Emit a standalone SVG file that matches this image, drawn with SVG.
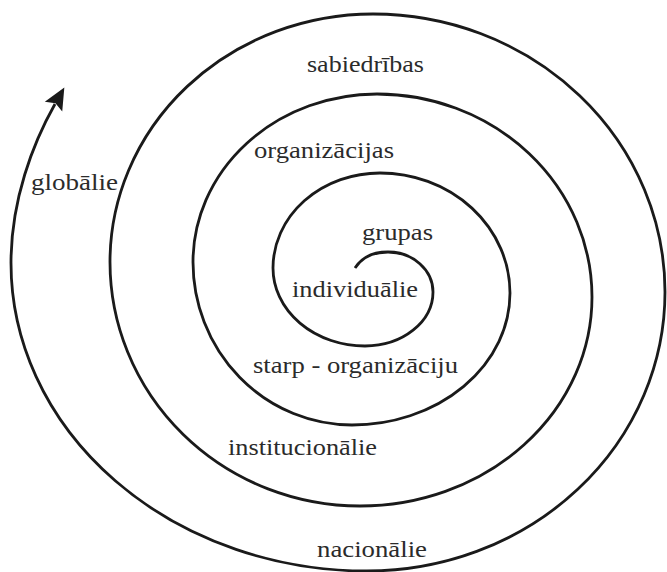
<svg xmlns="http://www.w3.org/2000/svg" width="667" height="572" viewBox="0 0 667 572">
  <style>
    .spiral { fill: none; stroke: #1a1a1a; stroke-width: 2.8; stroke-linecap: butt; }
    text { font-family: "Liberation Serif", "Times New Roman", "DejaVu Serif", serif; font-size: 24px; fill: #2b2b2b; }
  </style>
  <defs>
    <marker id="arrowhead" markerUnits="userSpaceOnUse" viewBox="0 -11 23 22" markerWidth="23" markerHeight="22" refX="3" refY="0" orient="auto">
      <path d="M0,-10 L22,0 L0,10 L4,0 Z" fill="#1a1a1a"/>
    </marker>
  </defs>
  <rect width="667" height="572" fill="#ffffff"/>

  <!-- one continuous spiral, built from quarter-ellipse arcs, ending in an arrow -->
  <g id="connectors">
    <path class="spiral" marker-end="url(#arrowhead)" d="
      M355,268
      C362,257 374,252 388,252
      A45,40 0 0 1 433,292
      A68,54 0 0 1 365,346
      A92,78 0 0 1 273,268
      A107,95 0 0 1 380,173
      A130,120 0 0 1 510,293
      A158,132 0 0 1 352,425
      A159,163 0 0 1 193,262
      A184,168 0 0 1 377,94
      A215,203 0 0 1 592,297
      A232,209 0 0 1 360,506
      A250,244 0 0 1 110,262
      A263,248 0 0 1 373,14
      A292,278 0 0 1 665,292
      A298,279 0 0 1 367,571
      A356,308 0 0 1 11,263
      C11,200 33,143 55,104"/>
  </g>

  <!-- level labels -->
  <g id="labels">
    <g id="label-individualie"><text x="292" y="297" textLength="126" lengthAdjust="spacingAndGlyphs">individuālie</text></g>
    <g id="label-grupas"><text x="362" y="240" textLength="71" lengthAdjust="spacingAndGlyphs">grupas</text></g>
    <g id="label-organizacijas"><text x="254" y="158" textLength="140" lengthAdjust="spacingAndGlyphs">organizācijas</text></g>
    <g id="label-starp-organizaciju"><text x="253" y="373" textLength="205" lengthAdjust="spacingAndGlyphs">starp - organizāciju</text></g>
    <g id="label-sabiedribas"><text x="307" y="72" textLength="117" lengthAdjust="spacingAndGlyphs">sabiedrības</text></g>
    <g id="label-institucionalie"><text x="228" y="455" textLength="149" lengthAdjust="spacingAndGlyphs">institucionālie</text></g>
    <g id="label-globalie"><text x="31" y="190" textLength="87" lengthAdjust="spacingAndGlyphs">globālie</text></g>
    <g id="label-nacionalie"><text x="317" y="557" textLength="110" lengthAdjust="spacingAndGlyphs">nacionālie</text></g>
  </g>
</svg>
